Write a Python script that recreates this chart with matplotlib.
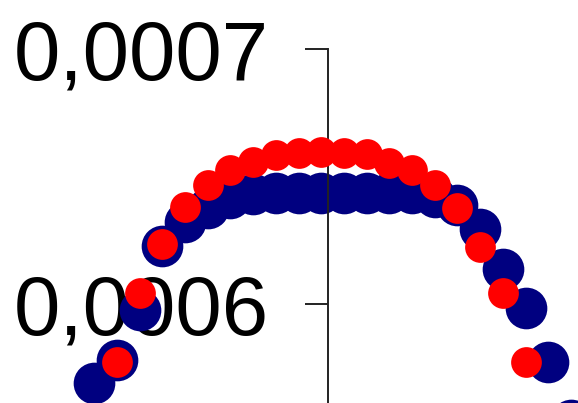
import matplotlib.pyplot as plt
from matplotlib.ticker import FuncFormatter

# positions along x (0 is where the vertical axis sits)
x_navy = [-10.3, -9.3, -8.3, -7.3, -6.3, -5.3, -4.3, -3.3, -2.3, -1.3, -0.3,
          0.7, 1.7, 2.7, 3.7, 4.7, 5.7, 6.7, 7.7, 8.7, 9.7, 10.7]
y_navy = [0.000569, 0.000578, 0.0005977, 0.0006228, 0.0006322, 0.0006377,
          0.0006417, 0.0006432, 0.0006436, 0.0006436, 0.0006436, 0.0006436,
          0.0006436, 0.0006436, 0.0006436, 0.0006421, 0.0006389, 0.0006295,
          0.0006138, 0.0005984, 0.0005772, 0.0005544]

x_red = [-9.3, -8.3, -7.3, -6.3, -5.3, -4.3, -3.3, -2.3, -1.3, -0.3,
         0.7, 1.7, 2.7, 3.7, 4.7, 5.7, 6.7, 7.7, 8.7]
y_red = [0.0005772, 0.0006043, 0.0006236, 0.0006381, 0.0006468, 0.0006527,
         0.0006558, 0.0006586, 0.0006593, 0.0006597, 0.0006593, 0.0006589,
         0.0006554, 0.0006527, 0.0006468, 0.0006377, 0.0006224, 0.0006043,
         0.0005772]

y_ticks = [0.0006, 0.0007]

plt.rcParams['font.family'] = ['Liberation Sans', 'DejaVu Sans']

fig = plt.figure(figsize=(5.78, 4.03), dpi=100)
ax = fig.add_axes([0, 0, 1, 0.8772])

ax.scatter(x_navy, y_navy, s=900, color='#000080', linewidths=0, zorder=2, clip_on=False)
ax.scatter(x_red, y_red, s=490, color='#ff0000', linewidths=0, zorder=3, clip_on=False)

ax.set_xlim(-14.45, 11.01)
ax.set_ylim(0.0005611, 0.0007)

for side in ['top', 'right', 'bottom']:
    ax.spines[side].set_visible(False)
ax.spines['left'].set_position(('data', 0))
ax.spines['left'].set_color('#222222')
ax.spines['left'].set_linewidth(1.4)

ax.set_xticks([])
ax.set_yticks(y_ticks)
ax.yaxis.set_major_formatter(FuncFormatter(lambda v, p: f"{v:.4f}".replace('.', ',')))
ax.tick_params(axis='y', direction='out', length=16.5, width=1.4, color='#222222',
               pad=26, labelsize=60, labelcolor='black')

fig.savefig('out.png', dpi=100)
